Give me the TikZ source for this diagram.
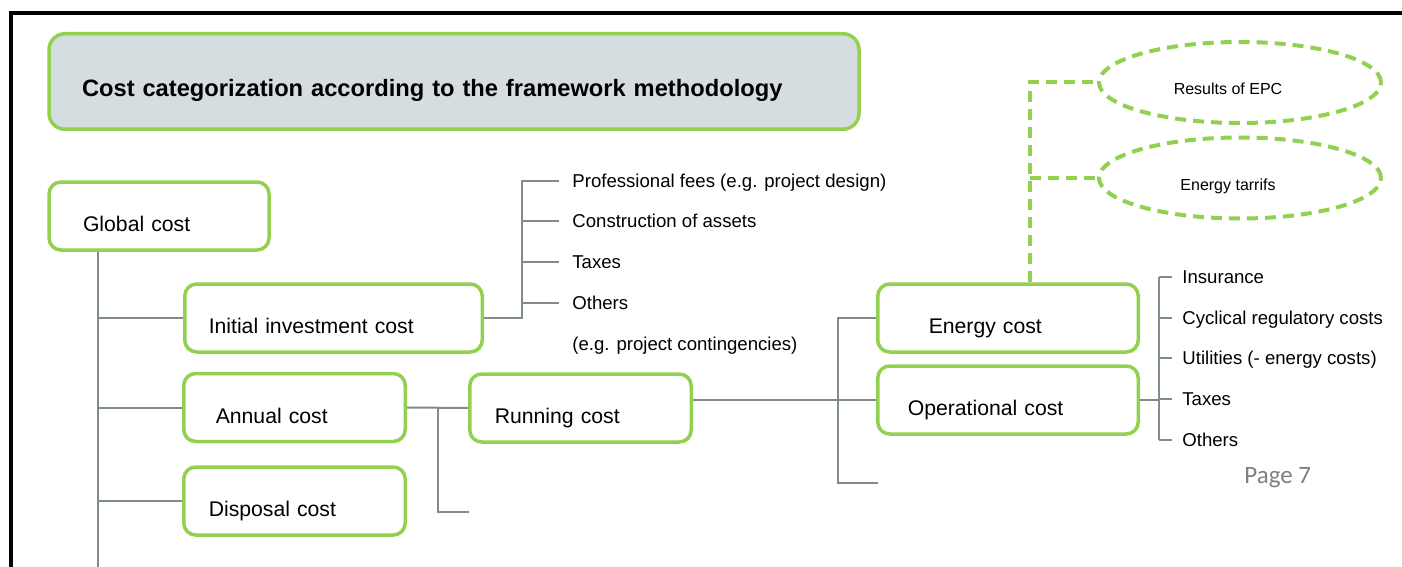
\documentclass[tikz,border=0pt]{standalone}
\usepackage{fontspec}
\setmainfont{Liberation Sans}
\newfontfamily\pagefont{Carlito}
\usetikzlibrary{shapes.geometric, backgrounds}

\definecolor{leaf}{HTML}{92D050}
\definecolor{titlefill}{HTML}{D5DDE0}
\definecolor{branch}{HTML}{7F8B8C}
\definecolor{pagegray}{HTML}{7F7F7F}

\tikzset{
	box/.style={draw=leaf, line width=1.75pt, rounded corners=6pt, fill=white,
		minimum height=34pt, align=left, text height=17.5pt, text depth=2pt,
		font=\fontsize{10.6}{12}\selectfont},
	tree/.style={draw=branch, line width=1pt},
	dashline/.style={draw=leaf, line width=2pt, dash pattern=on 5.5pt off 3.5pt},
	bubble/.style={ellipse, dashline, minimum width=141pt, minimum height=40.5pt, inner sep=0pt,
		text height=14.2pt, text depth=2pt, font=\fontsize{8}{10}\selectfont},
	item/.style={anchor=west, inner xsep=6.5pt, inner ysep=0pt, text height=8.7pt, text depth=2pt,
		font=\fontsize{9.3}{11}\selectfont}
}

\begin{document}
\begin{tikzpicture}[x=0.5pt, y=-0.5pt]
	\useasboundingbox (0,0) rectangle (1402,567);
	\draw[line width=2pt] (10.5,567) -- (10.5,13) -- (1402,13);

	\node[box, fill=titlefill, rounded corners=8pt, minimum height=47.75pt, inner xsep=16.5pt, text width=372pt,
		font=\fontsize{11.85}{14}\selectfont\bfseries] (title) at (454,81.5)
		{Cost categorization according to the framework methodology};

	\node[box, inner xsep=17pt, text width=76pt] (global) at (159,216) {Global cost};
	\node[box, inner xsep=12pt, text width=124.75pt] (initial) at (333.5,318) {Initial investment cost};
	\node[box, inner xsep=16pt, text width=78.75pt] (annual) at (294.5,407.5) {Annual cost};
	\node[box, inner xsep=12.5pt, text width=85.75pt] (disposal) at (294.5,501) {Disposal cost};
	\node[box, inner xsep=12.5pt, text width=85.75pt] (running) at (580.5,408) {Running cost};
	\node[box, inner xsep=25.5pt, text width=79.25pt] (energy) at (1008,318) {Energy cost};
	\node[box, inner xsep=15pt, text width=100.25pt] (operational) at (1008,400) {Operational cost};

	\node[bubble] (epc) at (1240,82.5) {Results of EPC\hspace*{12pt}};
	\node[bubble] (tariffs) at (1240,178) {Energy tarrifs\hspace*{12pt}};

	\node[item] (fees) at (559,181) {Professional fees (e.g. project design)};
	\node[item] (assets) at (559,221) {Construction of assets};
	\node[item] (itaxes) at (559,262) {Taxes};
	\node[item] (iothers) at (559,303) {Others};
	\node[item] (contingency) at (559,344) {(e.g. project contingencies)};

	\node[item, inner xsep=5pt] (insurance) at (1172,277) {Insurance};
	\node[item, inner xsep=5pt] (regulatory) at (1172,318) {Cyclical regulatory costs};
	\node[item, inner xsep=5pt] (utilities) at (1172,358) {Utilities (- energy costs)};
	\node[item, inner xsep=5pt] (otaxes) at (1172,399) {Taxes};
	\node[item, inner xsep=5pt] (oothers) at (1172,440) {Others};

	\node[anchor=base west, inner sep=0pt, text=pagegray, font=\pagefont\fontsize{12.5}{15}\selectfont]
		(page) at (1244,483) {Page 7};

	\coordinate (trunk) at (98,567);
	\coordinate (ibus) at (522,0);
	\coordinate (abus) at (438,512);
	\coordinate (astub) at (469,512);
	\coordinate (rbus) at (838,483);
	\coordinate (rstub) at (878,483);
	\coordinate (obus) at (1159,0);
	\coordinate (ebus) at (1030,82.5);

	\begin{scope}[on background layer]
		\draw[tree] (trunk |- global.south) -- (trunk);
		\foreach \n in {initial, annual, disposal}
			\draw[tree] (trunk |- \n.west) -- (\n.west);

		\draw[tree] (initial.east) -- (ibus |- initial.east) -- (ibus |- fees.west) -- (fees.west);
		\foreach \n in {assets, itaxes, iothers}
			\draw[tree] (ibus |- \n.west) -- (\n.west);

		\draw[tree] (annual.east) -- (running.west);
		\draw[tree] (abus |- annual.east) -- (abus) -- (astub);

		\draw[tree] (running.east |- operational.west) -- (operational.west);
		\draw[tree] (energy.west) -- (rbus |- energy.west) -- (rbus) -- (rstub);

		\draw[tree] (operational.east) -- (obus |- operational.east);
		\draw[tree] (obus |- insurance.west) -- (obus |- oothers.west);
		\foreach \n in {insurance, regulatory, utilities, otaxes, oothers}
			\draw[tree] (obus |- \n.west) -- (\n.west);

		\draw[dashline] (ebus |- energy.north) -- (ebus) -- (epc.west);
		\draw[dashline] (ebus |- tariffs.west) -- (tariffs.west);
	\end{scope}
\end{tikzpicture}
\end{document}
